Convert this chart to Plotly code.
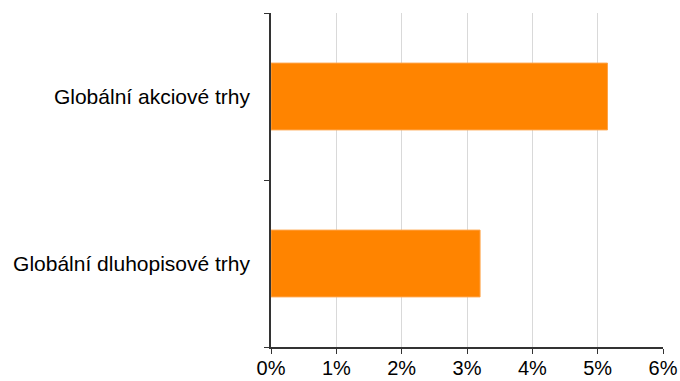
import plotly.graph_objects as go

categories = ["Globální dluhopisové trhy", "Globální akciové trhy"]
values = [3.2, 5.15]
x_ticks = [0, 1, 2, 3, 4, 5, 6]
x_tick_labels = ["0%", "1%", "2%", "3%", "4%", "5%", "6%"]

fig = go.Figure(
    go.Bar(
        x=values,
        y=categories,
        orientation="h",
        marker=dict(color="#FF8400", line=dict(color="#FFA347", width=1)),
        width=0.4,
    )
)

fig.update_layout(
    width=680,
    height=381,
    margin=dict(l=271, r=17, t=13, b=34),
    paper_bgcolor="white",
    plot_bgcolor="white",
    showlegend=False,
    font=dict(family="Liberation Sans, Arial, sans-serif", size=21, color="#000000"),
)

fig.update_xaxes(
    range=[0, 6],
    tickvals=x_ticks,
    ticktext=x_tick_labels,
    showgrid=True,
    gridcolor="#D9D9D9",
    gridwidth=1,
    showline=True,
    linecolor="#333333",
    linewidth=1.5,
    ticks="outside",
    ticklen=5,
    tickcolor="#333333",
    tickfont=dict(size=20),
    ticklabelstandoff=-3,
    zeroline=False,
    automargin=False,
)

fig.update_yaxes(
    showline=True,
    linecolor="#333333",
    linewidth=1.5,
    ticks="outside",
    tickson="boundaries",
    ticklen=5,
    tickcolor="#333333",
    showgrid=False,
    tickfont=dict(size=21),
    ticklabelstandoff=15,
    automargin=False,
)

fig.write_html("out.html")
